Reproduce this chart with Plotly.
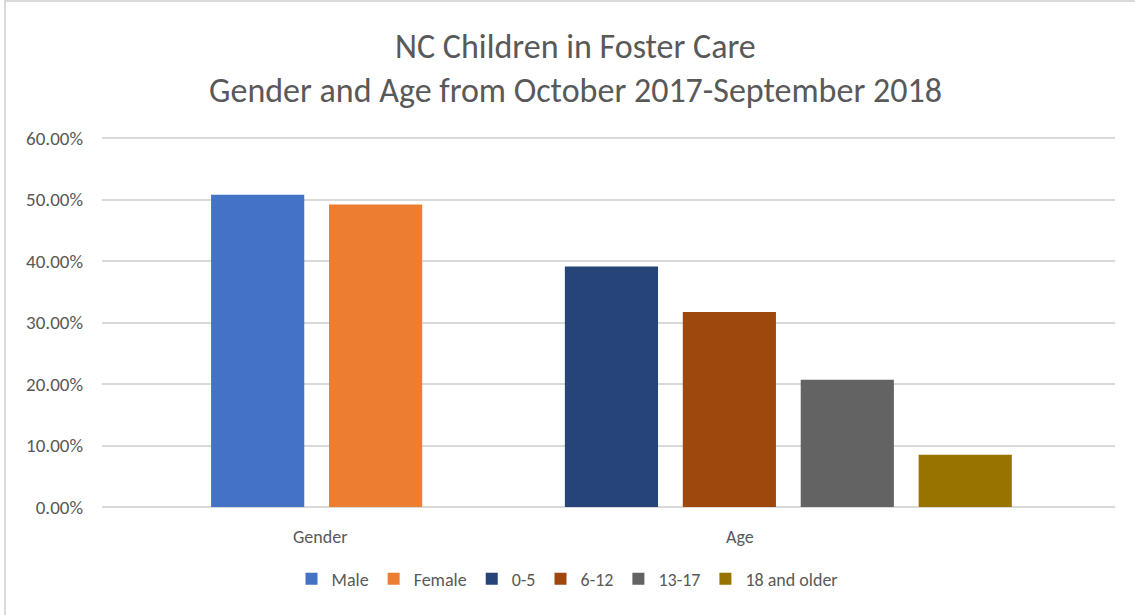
import plotly.graph_objects as go

# ---- data ----
series_names = ["Male", "Female", "0-5", "6-12", "13-17", "18 and older"]
series_values = [0.508, 0.492, 0.391, 0.317, 0.207, 0.085]
series_colors = ["#4472C4", "#ED7D31", "#264478", "#9E480E", "#636363", "#997300"]
group_labels = ["Gender", "Age"]
y_tick_values = [0, 0.1, 0.2, 0.3, 0.4, 0.5, 0.6]

# slot order on the category axis (blank spacer between the two groups)
slot_order = ["Male", "Female", " ", "0-5", "6-12", "13-17", "18 and older"]

FONT = "Carlito, Calibri, Lato, 'Open Sans', sans-serif"
TEXT = "#595959"

fig = go.Figure()
for name, val, col in zip(series_names, series_values, series_colors):
    fig.add_trace(go.Bar(
        x=[name], y=[val], name=name,
        marker=dict(color=col, line=dict(width=0)),
        width=0.79,
    ))

# group labels under the axis
group_pos = [0.53, 4.09]
for lab, pos in zip(group_labels, group_pos):
    fig.add_annotation(
        x=pos, xref="x", y=-0.045, yref="paper", yanchor="top",
        text=lab, showarrow=False,
        font=dict(family=FONT, size=18, color=TEXT),
    )

# outer chart border (right and bottom edges fall outside the picture)
fig.add_shape(type="rect", xref="paper", yref="paper",
              x0=-0.0958, x1=1.05, y0=-0.32, y1=1.36,
              line=dict(color="#D9D9D9", width=2), fillcolor="rgba(0,0,0,0)",
              layer="below")

fig.update_layout(
    width=1135, height=615,
    margin=dict(l=102, r=20, t=135, b=108),
    paper_bgcolor="white", plot_bgcolor="white",
    barmode="overlay",
    title=dict(
        text="NC Children in Foster Care<br>Gender and Age from October 2017-September 2018",
        x=0.507, xanchor="center", xref="container",
        y=1 - 58 / 615, yanchor="top", yref="container",
        font=dict(family=FONT, size=34, color=TEXT),
    ),
    xaxis=dict(
        type="category",
        categoryorder="array", categoryarray=slot_order,
        range=[-1.32, 7.27],
        showticklabels=False, showgrid=False, zeroline=False,
        showline=False, ticks="",
    ),
    yaxis=dict(
        range=[0, 0.605], tickvals=y_tick_values, tickformat=".2%",
        showgrid=True, gridcolor="#D9D9D9", gridwidth=1.5,
        zeroline=True, zerolinecolor="#D9D9D9", zerolinewidth=1.5,
        showline=False, ticks="",
        ticklabelstandoff=18,
        tickfont=dict(family=FONT, size=19, color=TEXT),
    ),
    legend=dict(
        orientation="h", x=0.5, xanchor="center", xref="container",
        y=1 - 579 / 615, yanchor="middle", yref="container",
        font=dict(family=FONT, size=18, color=TEXT),
        itemwidth=30, traceorder="normal",
    ),
    showlegend=True,
)

fig.write_html("out.html")
